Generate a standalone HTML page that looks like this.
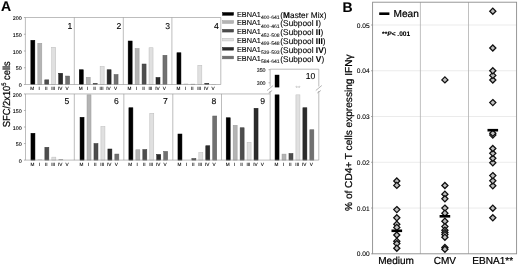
<!DOCTYPE html>
<html><head><meta charset="utf-8"><title>Figure</title>
<style>html,body{margin:0;padding:0;background:#fff}svg{display:block;filter:blur(0.3px)}text{fill:#000;stroke:#000;stroke-width:.1px;text-rendering:geometricPrecision}.lg{fill:#c4c4c4;stroke:#c4c4c4}.s{stroke-width:.05px}.b{stroke-width:.22px}</style></head>
<body><svg width="520" height="265" viewBox="0 0 520 265">
<rect width="520" height="265" fill="#fff"/>
<g font-family='"Liberation Sans", Arial, Helvetica, sans-serif'>
<rect x="30.85" y="40.25" width="4.0" height="44.25" fill="#000000" stroke="#000000" stroke-width="0.5"/>
<rect x="37.81" y="43.25" width="4.0" height="41.25" fill="#b4b4b4" stroke="#9c9c9c" stroke-width="0.5"/>
<rect x="44.77" y="79.85" width="4.0" height="4.65" fill="#4d4d4d" stroke="#3c3c3c" stroke-width="0.5"/>
<rect x="51.73" y="47.25" width="4.0" height="37.25" fill="#e0e0e0" stroke="#bcbcbc" stroke-width="0.5"/>
<rect x="58.69" y="73.25" width="4.0" height="11.25" fill="#2b2b2b" stroke="#1e1e1e" stroke-width="0.5"/>
<rect x="65.65" y="76.05" width="4.0" height="8.45" fill="#707070" stroke="#5c5c5c" stroke-width="0.5"/>
<rect x="79.25" y="69.75" width="4.0" height="14.75" fill="#000000" stroke="#000000" stroke-width="0.5"/>
<rect x="86.21" y="77.25" width="4.0" height="7.25" fill="#b4b4b4" stroke="#9c9c9c" stroke-width="0.5"/>
<rect x="93.17" y="83.25" width="4.0" height="1.25" fill="#4d4d4d" stroke="#3c3c3c" stroke-width="0.5"/>
<rect x="100.13" y="66.50" width="4.0" height="18.00" fill="#e0e0e0" stroke="#bcbcbc" stroke-width="0.5"/>
<rect x="107.09" y="69.75" width="4.0" height="14.75" fill="#2b2b2b" stroke="#1e1e1e" stroke-width="0.5"/>
<rect x="114.05" y="74.50" width="4.0" height="10.00" fill="#707070" stroke="#5c5c5c" stroke-width="0.5"/>
<rect x="128.15" y="41.00" width="4.0" height="43.50" fill="#000000" stroke="#000000" stroke-width="0.5"/>
<rect x="135.11" y="48.50" width="4.0" height="36.00" fill="#b4b4b4" stroke="#9c9c9c" stroke-width="0.5"/>
<rect x="142.07" y="64.00" width="4.0" height="20.50" fill="#4d4d4d" stroke="#3c3c3c" stroke-width="0.5"/>
<rect x="149.03" y="47.75" width="4.0" height="36.75" fill="#e0e0e0" stroke="#bcbcbc" stroke-width="0.5"/>
<rect x="155.99" y="77.45" width="4.0" height="7.05" fill="#2b2b2b" stroke="#1e1e1e" stroke-width="0.5"/>
<rect x="162.95" y="55.25" width="4.0" height="29.25" fill="#707070" stroke="#5c5c5c" stroke-width="0.5"/>
<rect x="176.95" y="52.75" width="4.0" height="31.75" fill="#000000" stroke="#000000" stroke-width="0.5"/>
<rect x="183.66" y="83.60" width="4.5" height="0.90" fill="#b4b4b4" opacity="0.75"/>
<rect x="190.62" y="83.90" width="4.5" height="0.60" fill="#4d4d4d" opacity="0.75"/>
<rect x="197.83" y="65.25" width="4.0" height="19.25" fill="#e0e0e0" stroke="#bcbcbc" stroke-width="0.5"/>
<rect x="204.79" y="83.35" width="4.0" height="1.15" fill="#2b2b2b" stroke="#1e1e1e" stroke-width="0.5"/>
<rect x="211.50" y="84.20" width="4.5" height="0.30" fill="#707070" opacity="0.75"/>
<rect x="30.95" y="133.25" width="4.0" height="26.85" fill="#000000" stroke="#000000" stroke-width="0.5"/>
<rect x="37.66" y="159.40" width="4.5" height="0.70" fill="#b4b4b4" opacity="0.75"/>
<rect x="44.87" y="147.25" width="4.0" height="12.85" fill="#4d4d4d" stroke="#3c3c3c" stroke-width="0.5"/>
<rect x="51.83" y="157.15" width="4.0" height="2.95" fill="#e0e0e0" stroke="#bcbcbc" stroke-width="0.5"/>
<rect x="58.54" y="159.50" width="4.5" height="0.60" fill="#2b2b2b" opacity="0.75"/>
<rect x="80.05" y="117.25" width="4.0" height="42.85" fill="#000000" stroke="#000000" stroke-width="0.5"/>
<rect x="87.01" y="94.85" width="4.0" height="65.25" fill="#b4b4b4" stroke="#9c9c9c" stroke-width="0.5"/>
<rect x="93.97" y="143.50" width="4.0" height="16.60" fill="#4d4d4d" stroke="#3c3c3c" stroke-width="0.5"/>
<rect x="100.93" y="126.50" width="4.0" height="33.60" fill="#e0e0e0" stroke="#bcbcbc" stroke-width="0.5"/>
<rect x="107.89" y="149.00" width="4.0" height="11.10" fill="#2b2b2b" stroke="#1e1e1e" stroke-width="0.5"/>
<rect x="114.85" y="154.05" width="4.0" height="6.05" fill="#707070" stroke="#5c5c5c" stroke-width="0.5"/>
<rect x="128.90" y="107.75" width="4.0" height="52.35" fill="#000000" stroke="#000000" stroke-width="0.5"/>
<rect x="135.86" y="149.75" width="4.0" height="10.35" fill="#b4b4b4" stroke="#9c9c9c" stroke-width="0.5"/>
<rect x="142.82" y="149.50" width="4.0" height="10.60" fill="#4d4d4d" stroke="#3c3c3c" stroke-width="0.5"/>
<rect x="149.78" y="113.25" width="4.0" height="46.85" fill="#e0e0e0" stroke="#bcbcbc" stroke-width="0.5"/>
<rect x="156.74" y="154.45" width="4.0" height="5.65" fill="#2b2b2b" stroke="#1e1e1e" stroke-width="0.5"/>
<rect x="163.70" y="151.40" width="4.0" height="8.70" fill="#707070" stroke="#5c5c5c" stroke-width="0.5"/>
<rect x="177.95" y="134.00" width="4.0" height="26.10" fill="#000000" stroke="#000000" stroke-width="0.5"/>
<rect x="191.87" y="158.55" width="4.0" height="1.55" fill="#4d4d4d" stroke="#3c3c3c" stroke-width="0.5"/>
<rect x="198.83" y="152.55" width="4.0" height="7.55" fill="#e0e0e0" stroke="#bcbcbc" stroke-width="0.5"/>
<rect x="205.79" y="145.75" width="4.0" height="14.35" fill="#2b2b2b" stroke="#1e1e1e" stroke-width="0.5"/>
<rect x="212.75" y="116.00" width="4.0" height="44.10" fill="#707070" stroke="#5c5c5c" stroke-width="0.5"/>
<rect x="226.20" y="117.75" width="4.0" height="42.35" fill="#000000" stroke="#000000" stroke-width="0.5"/>
<rect x="233.16" y="125.25" width="4.0" height="34.85" fill="#b4b4b4" stroke="#9c9c9c" stroke-width="0.5"/>
<rect x="240.12" y="127.75" width="4.0" height="32.35" fill="#4d4d4d" stroke="#3c3c3c" stroke-width="0.5"/>
<rect x="247.08" y="142.25" width="4.0" height="17.85" fill="#e0e0e0" stroke="#bcbcbc" stroke-width="0.5"/>
<rect x="254.04" y="108.25" width="4.0" height="51.85" fill="#2b2b2b" stroke="#1e1e1e" stroke-width="0.5"/>
<rect x="275.05" y="94.85" width="4.0" height="65.25" fill="#000000" stroke="#000000" stroke-width="0.5"/>
<rect x="282.01" y="154.10" width="4.0" height="6.00" fill="#b4b4b4" stroke="#9c9c9c" stroke-width="0.5"/>
<rect x="288.97" y="153.45" width="4.0" height="6.65" fill="#4d4d4d" stroke="#3c3c3c" stroke-width="0.5"/>
<rect x="295.93" y="94.85" width="4.0" height="65.25" fill="#e0e0e0" stroke="#bcbcbc" stroke-width="0.5"/>
<rect x="302.89" y="107.75" width="4.0" height="52.35" fill="#2b2b2b" stroke="#1e1e1e" stroke-width="0.5"/>
<rect x="309.85" y="129.75" width="4.0" height="30.35" fill="#707070" stroke="#5c5c5c" stroke-width="0.5"/>
<rect x="274.80" y="74.8" width="4.5" height="12.6" fill="#000"/>
<path d="M25.4 17.5H220.8V84.5H25.4Z" fill="none" stroke="#949494" stroke-width="0.62"/>
<path d="M74.30 17.5V84.5" stroke="#949494" stroke-width="0.62"/>
<path d="M123.30 17.5V84.5" stroke="#949494" stroke-width="0.62"/>
<path d="M171.90 17.5V84.5" stroke="#949494" stroke-width="0.62"/>
<path d="M270.15 93.95H25.5V160.1H318.80" fill="none" stroke="#949494" stroke-width="0.62"/>
<path d="M74.30 93.95V160.1" stroke="#949494" stroke-width="0.62"/>
<path d="M123.85 93.95V160.1" stroke="#949494" stroke-width="0.62"/>
<path d="M172.80 93.95V160.1" stroke="#949494" stroke-width="0.62"/>
<path d="M221.50 93.95V160.1" stroke="#949494" stroke-width="0.62"/>
<path d="M270.15 160.1V91 M270.15 86.5V69.2H318.80V86.5 M318.80 91V160.1" fill="none" stroke="#949494" stroke-width="0.62"/>
<path d="M267.15 90.5L273.15 85.5 M268.65 93L272.15 90.5" stroke="#949494" stroke-width="0.7" fill="none"/>
<path d="M315.80 90.5L321.80 85.5 M317.30 93L320.80 90.5" stroke="#949494" stroke-width="0.7" fill="none"/>
<path d="M23.90 84.50H25.5" stroke="#949494" stroke-width="0.7"/>
<text x="21.7" y="87.20" font-size="5.3" text-anchor="end">0</text>
<path d="M23.90 67.75H25.5" stroke="#949494" stroke-width="0.7"/>
<text x="21.7" y="70.45" font-size="5.3" text-anchor="end">50</text>
<path d="M23.90 51.00H25.5" stroke="#949494" stroke-width="0.7"/>
<text x="21.7" y="53.70" font-size="5.3" text-anchor="end">100</text>
<path d="M23.90 34.25H25.5" stroke="#949494" stroke-width="0.7"/>
<text x="21.7" y="36.95" font-size="5.3" text-anchor="end">150</text>
<path d="M23.90 17.50H25.5" stroke="#949494" stroke-width="0.7"/>
<text x="21.7" y="20.20" font-size="5.3" text-anchor="end">200</text>
<path d="M23.90 160.10H25.5" stroke="#949494" stroke-width="0.7"/>
<text x="21.7" y="162.80" font-size="5.3" text-anchor="end">0</text>
<path d="M23.90 143.56H25.5" stroke="#949494" stroke-width="0.7"/>
<text x="21.7" y="146.26" font-size="5.3" text-anchor="end">50</text>
<path d="M23.90 127.03H25.5" stroke="#949494" stroke-width="0.7"/>
<text x="21.7" y="129.72" font-size="5.3" text-anchor="end">100</text>
<path d="M23.90 110.49H25.5" stroke="#949494" stroke-width="0.7"/>
<text x="21.7" y="113.19" font-size="5.3" text-anchor="end">150</text>
<path d="M23.90 93.95H25.5" stroke="#949494" stroke-width="0.7"/>
<text x="21.7" y="96.65" font-size="5.3" text-anchor="end">200</text>
<path d="M268.55 69.70H270.15" stroke="#949494" stroke-width="0.7"/>
<text x="265.55" y="71.80" font-size="5.3" text-anchor="end">350</text>
<path d="M268.55 82.80H270.15" stroke="#949494" stroke-width="0.7"/>
<text x="265.55" y="84.90" font-size="5.3" text-anchor="end">300</text>
<text x="32.25" y="90.10" font-size="4.7" text-anchor="middle">M</text>
<text x="39.21" y="90.10" font-size="4.7" text-anchor="middle">I</text>
<text x="46.17" y="90.10" font-size="4.7" text-anchor="middle">II</text>
<text x="53.13" y="90.10" font-size="4.7" text-anchor="middle">III</text>
<text x="60.09" y="90.10" font-size="4.7" text-anchor="middle">IV</text>
<text x="67.05" y="90.10" font-size="4.7" text-anchor="middle">V</text>
<text x="80.65" y="90.10" font-size="4.7" text-anchor="middle">M</text>
<text x="87.61" y="90.10" font-size="4.7" text-anchor="middle">I</text>
<text x="94.57" y="90.10" font-size="4.7" text-anchor="middle">II</text>
<text x="101.53" y="90.10" font-size="4.7" text-anchor="middle">III</text>
<text x="108.49" y="90.10" font-size="4.7" text-anchor="middle">IV</text>
<text x="115.45" y="90.10" font-size="4.7" text-anchor="middle">V</text>
<text x="129.55" y="90.10" font-size="4.7" text-anchor="middle">M</text>
<text x="136.51" y="90.10" font-size="4.7" text-anchor="middle">I</text>
<text x="143.47" y="90.10" font-size="4.7" text-anchor="middle">II</text>
<text x="150.43" y="90.10" font-size="4.7" text-anchor="middle">III</text>
<text x="157.39" y="90.10" font-size="4.7" text-anchor="middle">IV</text>
<text x="164.35" y="90.10" font-size="4.7" text-anchor="middle">V</text>
<text x="178.35" y="90.10" font-size="4.7" text-anchor="middle">M</text>
<text x="185.31" y="90.10" font-size="4.7" text-anchor="middle">I</text>
<text x="192.27" y="90.10" font-size="4.7" text-anchor="middle">II</text>
<text x="199.23" y="90.10" font-size="4.7" text-anchor="middle">III</text>
<text x="206.19" y="90.10" font-size="4.7" text-anchor="middle">IV</text>
<text x="213.15" y="90.10" font-size="4.7" text-anchor="middle">V</text>
<text x="32.35" y="166.35" font-size="4.7" text-anchor="middle">M</text>
<text x="39.31" y="166.35" font-size="4.7" text-anchor="middle">I</text>
<text x="46.27" y="166.35" font-size="4.7" text-anchor="middle">II</text>
<text x="53.23" y="166.35" font-size="4.7" text-anchor="middle">III</text>
<text x="60.19" y="166.35" font-size="4.7" text-anchor="middle">IV</text>
<text x="67.15" y="166.35" font-size="4.7" text-anchor="middle">V</text>
<text x="81.45" y="166.35" font-size="4.7" text-anchor="middle">M</text>
<text x="88.41" y="166.35" font-size="4.7" text-anchor="middle">I</text>
<text x="95.37" y="166.35" font-size="4.7" text-anchor="middle">II</text>
<text x="102.33" y="166.35" font-size="4.7" text-anchor="middle">III</text>
<text x="109.29" y="166.35" font-size="4.7" text-anchor="middle">IV</text>
<text x="116.25" y="166.35" font-size="4.7" text-anchor="middle">V</text>
<text x="130.30" y="166.35" font-size="4.7" text-anchor="middle">M</text>
<text x="137.26" y="166.35" font-size="4.7" text-anchor="middle">I</text>
<text x="144.22" y="166.35" font-size="4.7" text-anchor="middle">II</text>
<text x="151.18" y="166.35" font-size="4.7" text-anchor="middle">III</text>
<text x="158.14" y="166.35" font-size="4.7" text-anchor="middle">IV</text>
<text x="165.10" y="166.35" font-size="4.7" text-anchor="middle">V</text>
<text x="179.35" y="166.35" font-size="4.7" text-anchor="middle">M</text>
<text x="186.31" y="166.35" font-size="4.7" text-anchor="middle">I</text>
<text x="193.27" y="166.35" font-size="4.7" text-anchor="middle">II</text>
<text x="200.23" y="166.35" font-size="4.7" text-anchor="middle">III</text>
<text x="207.19" y="166.35" font-size="4.7" text-anchor="middle">IV</text>
<text x="214.15" y="166.35" font-size="4.7" text-anchor="middle">V</text>
<text x="227.60" y="166.35" font-size="4.7" text-anchor="middle">M</text>
<text x="234.56" y="166.35" font-size="4.7" text-anchor="middle">I</text>
<text x="241.52" y="166.35" font-size="4.7" text-anchor="middle">II</text>
<text x="248.48" y="166.35" font-size="4.7" text-anchor="middle">III</text>
<text x="255.44" y="166.35" font-size="4.7" text-anchor="middle">IV</text>
<text x="262.40" y="166.35" font-size="4.7" text-anchor="middle">V</text>
<text x="276.45" y="166.35" font-size="4.7" text-anchor="middle">M</text>
<text x="283.41" y="166.35" font-size="4.7" text-anchor="middle">I</text>
<text x="290.37" y="166.35" font-size="4.7" text-anchor="middle">II</text>
<text x="297.33" y="166.35" font-size="4.7" text-anchor="middle">III</text>
<text x="304.29" y="166.35" font-size="4.7" text-anchor="middle">IV</text>
<text x="311.25" y="166.35" font-size="4.7" text-anchor="middle">V</text>
<text x="72.40" y="28.8" font-size="8.6" text-anchor="end" class="g">1</text>
<text x="121.40" y="28.8" font-size="8.6" text-anchor="end" class="g">2</text>
<text x="170.00" y="28.8" font-size="8.6" text-anchor="end" class="g">3</text>
<text x="218.90" y="28.8" font-size="8.6" text-anchor="end" class="g">4</text>
<text x="69.20" y="103.7" font-size="8.6" text-anchor="end" class="g">5</text>
<text x="118.75" y="103.7" font-size="8.6" text-anchor="end" class="g">6</text>
<text x="167.70" y="103.7" font-size="8.6" text-anchor="end" class="g">7</text>
<text x="216.40" y="103.7" font-size="8.6" text-anchor="end" class="g">8</text>
<text x="265.05" y="103.7" font-size="8.6" text-anchor="end" class="g">9</text>
<text x="315.20" y="79.3" font-size="8.6" text-anchor="end" class="g">10</text>
<text x="297.93" y="89.6" font-size="6" text-anchor="middle" class="lg">**</text>
<text x="0.9" y="11.1" font-size="14" font-weight="bold">A</text>
<text transform="translate(10.0,127.2) rotate(-90) scale(0.915,1)" font-size="10.2" class="b">SFC/2x10<tspan font-size="6.4" dy="-3.8">5</tspan><tspan dy="3.8"> cells</tspan></text>
<rect x="222.55" y="12.55" width="11.0" height="2.7" fill="#000000" stroke="#000000" stroke-width="0.5"/>
<text x="237" y="17.10" font-size="7.3">EBNA1<tspan font-size="5.1" dy="2.2" class="s">400-641</tspan><tspan font-size="8.3" dy="-1.2" dx="0.7">(<tspan font-weight="bold">M</tspan>aster Mix)</tspan></text>
<rect x="222.55" y="20.65" width="11.0" height="2.7" fill="#b4b4b4" stroke="#9c9c9c" stroke-width="0.5"/>
<text x="237" y="25.30" font-size="7.3">EBNA1<tspan font-size="5.1" dy="2.2" class="s">400-461</tspan><tspan font-size="8.3" dy="-1.2" dx="0.7">(Subpool <tspan font-weight="bold">I</tspan>)</tspan></text>
<rect x="222.55" y="29.35" width="11.0" height="2.7" fill="#4d4d4d" stroke="#3c3c3c" stroke-width="0.5"/>
<text x="237" y="34.30" font-size="7.3">EBNA1<tspan font-size="5.1" dy="2.2" class="s">452-508</tspan><tspan font-size="8.3" dy="-1.2" dx="0.7">(Subpool <tspan font-weight="bold">II</tspan>)</tspan></text>
<rect x="222.55" y="38.25" width="11.0" height="2.7" fill="#e0e0e0" stroke="#bcbcbc" stroke-width="0.5"/>
<text x="237" y="43.10" font-size="7.3">EBNA1<tspan font-size="5.1" dy="2.2" class="s">499-548</tspan><tspan font-size="8.3" dy="-1.2" dx="0.7">(Subpool <tspan font-weight="bold">III</tspan>)</tspan></text>
<rect x="222.55" y="47.45" width="11.0" height="2.7" fill="#2b2b2b" stroke="#1e1e1e" stroke-width="0.5"/>
<text x="237" y="51.85" font-size="7.3">EBNA1<tspan font-size="5.1" dy="2.2" class="s">539-593</tspan><tspan font-size="8.3" dy="-1.2" dx="0.7">(Subpool <tspan font-weight="bold">IV</tspan>)</tspan></text>
<rect x="222.55" y="56.15" width="11.0" height="2.7" fill="#707070" stroke="#5c5c5c" stroke-width="0.5"/>
<text x="237" y="60.50" font-size="7.3">EBNA1<tspan font-size="5.1" dy="2.2" class="s">584-641</tspan><tspan font-size="8.3" dy="-1.2" dx="0.7">(Subpool <tspan font-weight="bold">V</tspan>)</tspan></text>
<path d="M372.6 208.04H516.6" stroke="#e2e2e2" stroke-width="0.7"/>
<path d="M372.6 162.28H516.6" stroke="#e2e2e2" stroke-width="0.7"/>
<path d="M372.6 116.52H516.6" stroke="#e2e2e2" stroke-width="0.7"/>
<path d="M372.6 70.76H516.6" stroke="#e2e2e2" stroke-width="0.7"/>
<path d="M372.6 25.00H516.6" stroke="#e2e2e2" stroke-width="0.7"/>
<path d="M420.4 2.2V253.8" stroke="#b0b0b0" stroke-width="0.8"/>
<path d="M468.5 2.2V253.8" stroke="#b0b0b0" stroke-width="0.8"/>
<rect x="372.6" y="2.2" width="144.00" height="251.60" fill="none" stroke="#8c8c8c" stroke-width="0.9"/>
<path d="M371.1 253.80H372.6" stroke="#8c8c8c" stroke-width="0.8"/>
<text x="369.7" y="256.40" font-size="6.6" text-anchor="end">0.00</text>
<path d="M371.1 208.04H372.6" stroke="#8c8c8c" stroke-width="0.8"/>
<text x="369.7" y="210.64" font-size="6.6" text-anchor="end">0.01</text>
<path d="M371.1 162.28H372.6" stroke="#8c8c8c" stroke-width="0.8"/>
<text x="369.7" y="164.88" font-size="6.6" text-anchor="end">0.02</text>
<path d="M371.1 116.52H372.6" stroke="#8c8c8c" stroke-width="0.8"/>
<text x="369.7" y="119.12" font-size="6.6" text-anchor="end">0.03</text>
<path d="M371.1 70.76H372.6" stroke="#8c8c8c" stroke-width="0.8"/>
<text x="369.7" y="73.36" font-size="6.6" text-anchor="end">0.04</text>
<path d="M371.1 25.00H372.6" stroke="#8c8c8c" stroke-width="0.8"/>
<text x="369.7" y="27.60" font-size="6.6" text-anchor="end">0.05</text>
<path d="M396.8 177.95L399.85 181L396.8 184.05L393.75 181Z" fill="#c0c0c0" stroke="#111" stroke-width="1.3"/>
<path d="M396.8 182.35L399.85 185.4L396.8 188.45L393.75 185.4Z" fill="#c0c0c0" stroke="#111" stroke-width="1.3"/>
<path d="M396.8 206.55L399.85 209.6L396.8 212.65L393.75 209.6Z" fill="#c0c0c0" stroke="#111" stroke-width="1.3"/>
<path d="M396.8 214.75L399.85 217.8L396.8 220.85L393.75 217.8Z" fill="#c0c0c0" stroke="#111" stroke-width="1.3"/>
<path d="M396.8 221.15L399.85 224.2L396.8 227.25L393.75 224.2Z" fill="#c0c0c0" stroke="#111" stroke-width="1.3"/>
<path d="M396.8 224.35L399.85 227.4L396.8 230.45L393.75 227.4Z" fill="#c0c0c0" stroke="#111" stroke-width="1.3"/>
<path d="M396.8 231.95L399.85 235.0L396.8 238.05L393.75 235.0Z" fill="#c0c0c0" stroke="#111" stroke-width="1.3"/>
<path d="M396.8 238.15L399.85 241.2L396.8 244.25L393.75 241.2Z" fill="#c0c0c0" stroke="#111" stroke-width="1.3"/>
<path d="M396.8 240.55L399.85 243.6L396.8 246.65L393.75 243.6Z" fill="#c0c0c0" stroke="#111" stroke-width="1.3"/>
<path d="M396.8 245.15L399.85 248.2L396.8 251.25L393.75 248.2Z" fill="#c0c0c0" stroke="#111" stroke-width="1.3"/>
<path d="M444.9 76.85L447.95 79.9L444.9 82.95L441.85 79.9Z" fill="#c0c0c0" stroke="#111" stroke-width="1.3"/>
<path d="M444.9 182.45L447.95 185.5L444.9 188.55L441.85 185.5Z" fill="#c0c0c0" stroke="#111" stroke-width="1.3"/>
<path d="M444.9 191.15L447.95 194.2L444.9 197.25L441.85 194.2Z" fill="#c0c0c0" stroke="#111" stroke-width="1.3"/>
<path d="M444.9 195.75L447.95 198.8L444.9 201.85L441.85 198.8Z" fill="#c0c0c0" stroke="#111" stroke-width="1.3"/>
<path d="M444.9 205.05L447.95 208.1L444.9 211.15L441.85 208.1Z" fill="#c0c0c0" stroke="#111" stroke-width="1.3"/>
<path d="M444.9 210.15L447.95 213.2L444.9 216.25L441.85 213.2Z" fill="#c0c0c0" stroke="#111" stroke-width="1.3"/>
<path d="M444.9 218.15L447.95 221.2L444.9 224.25L441.85 221.2Z" fill="#c0c0c0" stroke="#111" stroke-width="1.3"/>
<path d="M444.9 223.55L447.95 226.6L444.9 229.65L441.85 226.6Z" fill="#c0c0c0" stroke="#111" stroke-width="1.3"/>
<path d="M444.9 227.25L447.95 230.3L444.9 233.35L441.85 230.3Z" fill="#c0c0c0" stroke="#111" stroke-width="1.3"/>
<path d="M444.9 229.55L447.95 232.6L444.9 235.65L441.85 232.6Z" fill="#c0c0c0" stroke="#111" stroke-width="1.3"/>
<path d="M444.9 231.55L447.95 234.6L444.9 237.65L441.85 234.6Z" fill="#c0c0c0" stroke="#111" stroke-width="1.3"/>
<path d="M444.9 234.15L447.95 237.2L444.9 240.25L441.85 237.2Z" fill="#c0c0c0" stroke="#111" stroke-width="1.3"/>
<path d="M444.9 244.45L447.95 247.5L444.9 250.55L441.85 247.5Z" fill="#c0c0c0" stroke="#111" stroke-width="1.3"/>
<path d="M444.9 246.15L447.95 249.2L444.9 252.25L441.85 249.2Z" fill="#c0c0c0" stroke="#111" stroke-width="1.3"/>
<path d="M492.8 214.75L495.85 217.8L492.8 220.85L489.75 217.8Z" fill="#c0c0c0" stroke="#111" stroke-width="1.3"/>
<path d="M492.8 205.15L495.85 208.2L492.8 211.25L489.75 208.2Z" fill="#c0c0c0" stroke="#111" stroke-width="1.3"/>
<path d="M492.8 182.75L495.85 185.8L492.8 188.85L489.75 185.8Z" fill="#c0c0c0" stroke="#111" stroke-width="1.3"/>
<path d="M492.8 177.75L495.85 180.8L492.8 183.85L489.75 180.8Z" fill="#c0c0c0" stroke="#111" stroke-width="1.3"/>
<path d="M492.8 172.55L495.85 175.6L492.8 178.65L489.75 175.6Z" fill="#c0c0c0" stroke="#111" stroke-width="1.3"/>
<path d="M492.8 159.75L495.85 162.8L492.8 165.85L489.75 162.8Z" fill="#c0c0c0" stroke="#111" stroke-width="1.3"/>
<path d="M492.8 155.25L495.85 158.3L492.8 161.35L489.75 158.3Z" fill="#c0c0c0" stroke="#111" stroke-width="1.3"/>
<path d="M492.8 150.25L495.85 153.3L492.8 156.35L489.75 153.3Z" fill="#c0c0c0" stroke="#111" stroke-width="1.3"/>
<path d="M492.8 145.45L495.85 148.5L492.8 151.55L489.75 148.5Z" fill="#c0c0c0" stroke="#111" stroke-width="1.3"/>
<path d="M492.8 132.05L495.85 135.1L492.8 138.15L489.75 135.1Z" fill="#c0c0c0" stroke="#111" stroke-width="1.3"/>
<path d="M492.8 130.25L495.85 133.3L492.8 136.35L489.75 133.3Z" fill="#c0c0c0" stroke="#111" stroke-width="1.3"/>
<path d="M492.8 99.55L495.85 102.6L492.8 105.65L489.75 102.6Z" fill="#c0c0c0" stroke="#111" stroke-width="1.3"/>
<path d="M492.8 76.95L495.85 80L492.8 83.05L489.75 80Z" fill="#c0c0c0" stroke="#111" stroke-width="1.3"/>
<path d="M492.8 72.35L495.85 75.4L492.8 78.45L489.75 75.4Z" fill="#c0c0c0" stroke="#111" stroke-width="1.3"/>
<path d="M492.8 67.75L495.85 70.8L492.8 73.85L489.75 70.8Z" fill="#c0c0c0" stroke="#111" stroke-width="1.3"/>
<path d="M492.8 44.95L495.85 48L492.8 51.05L489.75 48Z" fill="#c0c0c0" stroke="#111" stroke-width="1.3"/>
<path d="M492.8 8.15L495.85 11.2L492.8 14.25L489.75 11.2Z" fill="#c0c0c0" stroke="#111" stroke-width="1.3"/>
<rect x="391.50" y="229.50" width="10.6" height="2.6" fill="#000"/>
<rect x="439.60" y="215.00" width="10.6" height="2.6" fill="#000"/>
<rect x="487.50" y="128.90" width="10.6" height="2.6" fill="#000"/>
<text x="396.1" y="263.6" font-size="10.05" text-anchor="middle" class="b">Medium</text>
<text x="444.9" y="263.6" font-size="10.05" text-anchor="middle" class="b">CMV</text>
<text x="492.7" y="263.6" font-size="10.05" text-anchor="middle" class="b">EBNA1**</text>
<rect x="379.2" y="12.4" width="10.2" height="2.6" fill="#000"/>
<text x="393.5" y="17.2" font-size="10.1" class="b">Mean</text>
<text x="382.1" y="35.6" font-size="6.6" font-weight="bold">**<tspan font-style="italic">P</tspan>&lt; .001</text>
<text x="342.5" y="11.9" font-size="14" font-weight="bold">B</text>
<text transform="translate(351.6,210.9) rotate(-90)" font-size="10.1" class="b">% of CD4+ T cells expressing IFNγ</text>
</g>
</svg></body></html>
